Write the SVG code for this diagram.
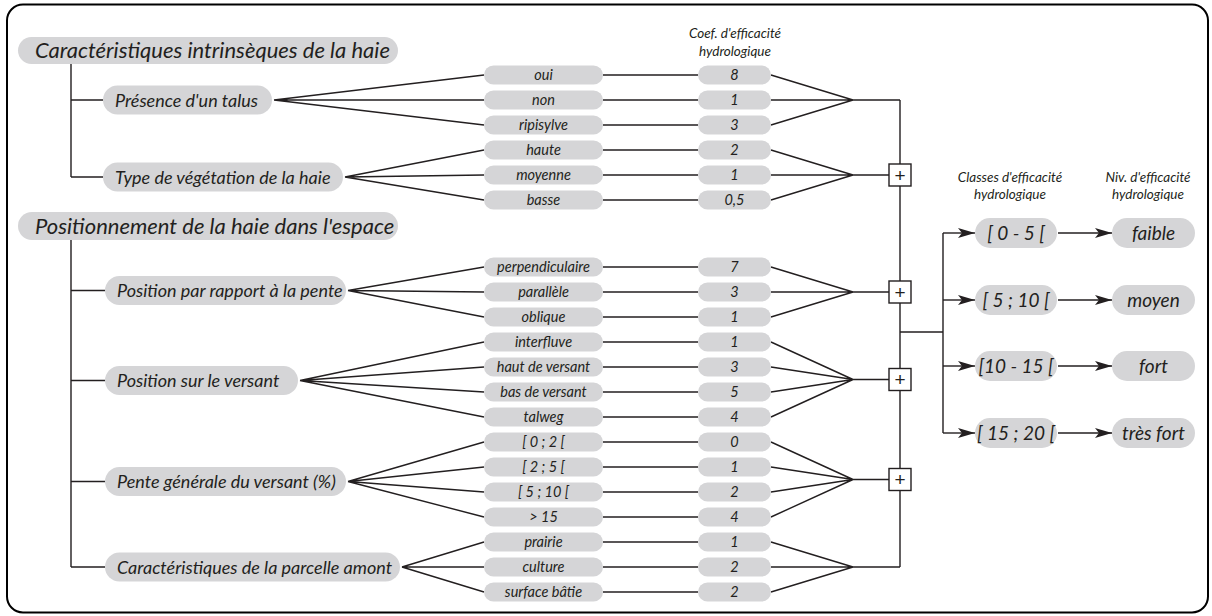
<svg xmlns="http://www.w3.org/2000/svg" width="1212" height="616" viewBox="0 0 1212 616">
<defs>
<style>
text{font-family:Lato,"Liberation Sans",sans-serif;font-style:italic;fill:#231f20}
.box{fill:#d5d5d7}
.ln{stroke:#231f20;stroke-width:1.4;fill:none}
.h1{font-size:22px}
.h2{font-size:18px}
.opt{font-size:14.5px;text-anchor:middle}
.cls{font-size:19px;text-anchor:middle}
.hd{font-size:13.5px;text-anchor:middle}
.plus{fill:#fff;stroke:#231f20;stroke-width:1.4}
.pt{font-style:normal;font-family:"Liberation Sans",sans-serif;font-size:19px;text-anchor:middle}
</style>
<marker id="arr" markerWidth="18" markerHeight="12" refX="17" refY="6" orient="auto" markerUnits="userSpaceOnUse">
<path d="M0,1 L17,6 L0,11 L4,6 z" fill="#231f20"/>
</marker>
</defs>
<rect x="7" y="4.5" width="1201" height="608" rx="16" fill="#fff" stroke="#000" stroke-width="2"/>

<g id="connectors" class="ln">
<path d="M71,64 V177 M71,100 H103 M71,177 H103"/>
<path d="M71,240 V567 M71,290.5 H105 M71,380.5 H105 M71,481.5 H105 M71,567 H105"/>
<path d="M274,100 L484,75 M274,100 L484,100 M274,100 L484,125"/>
<path d="M345,177 L484,150 M345,177 L484,175 M345,177 L484,200"/>
<path d="M348,290.5 L484,267 M348,290.5 L484,292 M348,290.5 L484,317"/>
<path d="M300,380.5 L484,342 M300,380.5 L484,367 M300,380.5 L484,392 M300,380.5 L484,417"/>
<path d="M348,481.5 L484,442 M348,481.5 L484,467 M348,481.5 L484,492 M348,481.5 L484,517"/>
<path d="M402,567 L484,542 M402,567 L484,567 M402,567 L484,592"/>
<path d="M603,75 H698 M603,100 H698 M603,125 H698 M603,150 H698 M603,175 H698 M603,200 H698 M603,267 H698 M603,292 H698 M603,317 H698 M603,342 H698 M603,367 H698 M603,392 H698 M603,417 H698 M603,442 H698 M603,467 H698 M603,492 H698 M603,517 H698 M603,542 H698 M603,567 H698 M603,592 H698"/>
<path d="M771,75 L853,100 M771,100 L853,100 M771,125 L853,100 M853,100 H900"/>
<path d="M771,150 L853,175 M771,175 L853,175 M771,200 L853,175 M853,175 H889"/>
<path d="M771,267 L853,292 M771,292 L853,292 M771,317 L853,292 M853,292 H889"/>
<path d="M771,342 L853,379.5 M771,367 L853,379.5 M771,392 L853,379.5 M771,417 L853,379.5 M853,379.5 H889"/>
<path d="M771,442 L853,479.5 M771,467 L853,479.5 M771,492 L853,479.5 M771,517 L853,479.5 M853,479.5 H889"/>
<path d="M771,542 L853,567 M771,567 L853,567 M771,592 L853,567 M853,567 H900"/>
<path d="M900,100 V567 M900,332 H943 M943,233 V433"/>
<path d="M943,233 H975" marker-end="url(#arr)"/>
<path d="M943,300 H975" marker-end="url(#arr)"/>
<path d="M943,366 H975" marker-end="url(#arr)"/>
<path d="M943,433 H975" marker-end="url(#arr)"/>
<path d="M1058,233 H1112" marker-end="url(#arr)"/>
<path d="M1058,300 H1112" marker-end="url(#arr)"/>
<path d="M1058,366 H1112" marker-end="url(#arr)"/>
<path d="M1058,433 H1112" marker-end="url(#arr)"/>
</g>

<g id="plus-boxes">
<g id="plus1"><rect class="plus" x="889" y="164" width="22" height="22"/><text class="pt" x="900" y="181.5">+</text></g>
<g id="plus2"><rect class="plus" x="889" y="281" width="22" height="22"/><text class="pt" x="900" y="298.5">+</text></g>
<g id="plus3"><rect class="plus" x="889" y="368.5" width="22" height="22"/><text class="pt" x="900" y="386">+</text></g>
<g id="plus4"><rect class="plus" x="889" y="468.5" width="22" height="22"/><text class="pt" x="900" y="486">+</text></g>
</g>

<g id="head-intrinseques"><rect class="box" x="18" y="37" width="380" height="27" rx="13.5"/><text class="h1" x="35" y="58">Caractéristiques intrinsèques de la haie</text></g>
<g id="head-position"><rect class="box" x="18" y="212" width="380" height="28" rx="14"/><text class="h1" x="35" y="233.5">Positionnement de la haie dans l'espace</text></g>

<g id="p-talus"><rect class="box" x="103" y="85.5" width="169" height="29" rx="14.5"/><text class="h2" x="115" y="106.5">Présence d'un talus</text></g>
<g id="p-vegetation"><rect class="box" x="103" y="162.5" width="240" height="29" rx="14.5"/><text class="h2" x="115" y="183.5">Type de végétation de la haie</text></g>
<g id="p-pente"><rect class="box" x="105" y="276" width="241" height="29" rx="14.5"/><text class="h2" x="117" y="297">Position par rapport à la pente</text></g>
<g id="p-versant"><rect class="box" x="105" y="366" width="193" height="29" rx="14.5"/><text class="h2" x="117" y="387">Position sur le versant</text></g>
<g id="p-pentegen"><rect class="box" x="105" y="467" width="241" height="29" rx="14.5"/><text class="h2" x="117" y="488">Pente générale du versant (%)</text></g>
<g id="p-parcelle"><rect class="box" x="105" y="552.5" width="295" height="29" rx="14.5"/><text class="h2" x="117" y="573.5">Caractéristiques de la parcelle amont</text></g>

<g id="options">
<g id="o1"><rect class="box" x="484" y="65.5" width="119" height="19" rx="9.5"/><text class="opt" x="543.5" y="80">oui</text></g>
<g id="o2"><rect class="box" x="484" y="90.5" width="119" height="19" rx="9.5"/><text class="opt" x="543.5" y="105">non</text></g>
<g id="o3"><rect class="box" x="484" y="115.5" width="119" height="19" rx="9.5"/><text class="opt" x="543.5" y="130">ripisylve</text></g>
<g id="o4"><rect class="box" x="484" y="140.5" width="119" height="19" rx="9.5"/><text class="opt" x="543.5" y="155">haute</text></g>
<g id="o5"><rect class="box" x="484" y="165.5" width="119" height="19" rx="9.5"/><text class="opt" x="543.5" y="180">moyenne</text></g>
<g id="o6"><rect class="box" x="484" y="190.5" width="119" height="19" rx="9.5"/><text class="opt" x="543.5" y="205">basse</text></g>
<g id="o7"><rect class="box" x="484" y="257.5" width="119" height="19" rx="9.5"/><text class="opt" x="543.5" y="272">perpendiculaire</text></g>
<g id="o8"><rect class="box" x="484" y="282.5" width="119" height="19" rx="9.5"/><text class="opt" x="543.5" y="297">parallèle</text></g>
<g id="o9"><rect class="box" x="484" y="307.5" width="119" height="19" rx="9.5"/><text class="opt" x="543.5" y="322">oblique</text></g>
<g id="o10"><rect class="box" x="484" y="332.5" width="119" height="19" rx="9.5"/><text class="opt" x="543.5" y="347">interfluve</text></g>
<g id="o11"><rect class="box" x="484" y="357.5" width="119" height="19" rx="9.5"/><text class="opt" x="543.5" y="372">haut de versant</text></g>
<g id="o12"><rect class="box" x="484" y="382.5" width="119" height="19" rx="9.5"/><text class="opt" x="543.5" y="397">bas de versant</text></g>
<g id="o13"><rect class="box" x="484" y="407.5" width="119" height="19" rx="9.5"/><text class="opt" x="543.5" y="422">talweg</text></g>
<g id="o14"><rect class="box" x="484" y="432.5" width="119" height="19" rx="9.5"/><text class="opt" x="543.5" y="447">[ 0 ; 2 [</text></g>
<g id="o15"><rect class="box" x="484" y="457.5" width="119" height="19" rx="9.5"/><text class="opt" x="543.5" y="472">[ 2 ; 5 [</text></g>
<g id="o16"><rect class="box" x="484" y="482.5" width="119" height="19" rx="9.5"/><text class="opt" x="543.5" y="497">[ 5 ; 10 [</text></g>
<g id="o17"><rect class="box" x="484" y="507.5" width="119" height="19" rx="9.5"/><text class="opt" x="543.5" y="522">&gt; 15</text></g>
<g id="o18"><rect class="box" x="484" y="532.5" width="119" height="19" rx="9.5"/><text class="opt" x="543.5" y="547">prairie</text></g>
<g id="o19"><rect class="box" x="484" y="557.5" width="119" height="19" rx="9.5"/><text class="opt" x="543.5" y="572">culture</text></g>
<g id="o20"><rect class="box" x="484" y="582.5" width="119" height="19" rx="9.5"/><text class="opt" x="543.5" y="597">surface bâtie</text></g>
</g>

<g id="coefs">
<text class="hd" x="735" y="38">Coef. d'efficacité</text>
<text class="hd" x="735" y="56">hydrologique</text>
<g id="c1"><rect class="box" x="698" y="65.5" width="73" height="19" rx="9.5"/><text class="opt" x="734.5" y="80">8</text></g>
<g id="c2"><rect class="box" x="698" y="90.5" width="73" height="19" rx="9.5"/><text class="opt" x="734.5" y="105">1</text></g>
<g id="c3"><rect class="box" x="698" y="115.5" width="73" height="19" rx="9.5"/><text class="opt" x="734.5" y="130">3</text></g>
<g id="c4"><rect class="box" x="698" y="140.5" width="73" height="19" rx="9.5"/><text class="opt" x="734.5" y="155">2</text></g>
<g id="c5"><rect class="box" x="698" y="165.5" width="73" height="19" rx="9.5"/><text class="opt" x="734.5" y="180">1</text></g>
<g id="c6"><rect class="box" x="698" y="190.5" width="73" height="19" rx="9.5"/><text class="opt" x="734.5" y="205">0,5</text></g>
<g id="c7"><rect class="box" x="698" y="257.5" width="73" height="19" rx="9.5"/><text class="opt" x="734.5" y="272">7</text></g>
<g id="c8"><rect class="box" x="698" y="282.5" width="73" height="19" rx="9.5"/><text class="opt" x="734.5" y="297">3</text></g>
<g id="c9"><rect class="box" x="698" y="307.5" width="73" height="19" rx="9.5"/><text class="opt" x="734.5" y="322">1</text></g>
<g id="c10"><rect class="box" x="698" y="332.5" width="73" height="19" rx="9.5"/><text class="opt" x="734.5" y="347">1</text></g>
<g id="c11"><rect class="box" x="698" y="357.5" width="73" height="19" rx="9.5"/><text class="opt" x="734.5" y="372">3</text></g>
<g id="c12"><rect class="box" x="698" y="382.5" width="73" height="19" rx="9.5"/><text class="opt" x="734.5" y="397">5</text></g>
<g id="c13"><rect class="box" x="698" y="407.5" width="73" height="19" rx="9.5"/><text class="opt" x="734.5" y="422">4</text></g>
<g id="c14"><rect class="box" x="698" y="432.5" width="73" height="19" rx="9.5"/><text class="opt" x="734.5" y="447">0</text></g>
<g id="c15"><rect class="box" x="698" y="457.5" width="73" height="19" rx="9.5"/><text class="opt" x="734.5" y="472">1</text></g>
<g id="c16"><rect class="box" x="698" y="482.5" width="73" height="19" rx="9.5"/><text class="opt" x="734.5" y="497">2</text></g>
<g id="c17"><rect class="box" x="698" y="507.5" width="73" height="19" rx="9.5"/><text class="opt" x="734.5" y="522">4</text></g>
<g id="c18"><rect class="box" x="698" y="532.5" width="73" height="19" rx="9.5"/><text class="opt" x="734.5" y="547">1</text></g>
<g id="c19"><rect class="box" x="698" y="557.5" width="73" height="19" rx="9.5"/><text class="opt" x="734.5" y="572">2</text></g>
<g id="c20"><rect class="box" x="698" y="582.5" width="73" height="19" rx="9.5"/><text class="opt" x="734.5" y="597">2</text></g>
</g>

<g id="classes">
<text class="hd" x="1010" y="182">Classes d'efficacité</text>
<text class="hd" x="1010" y="199">hydrologique</text>
<g id="k1"><rect class="box" x="975" y="218" width="82" height="30" rx="15"/><text class="cls" x="1016" y="239.5">[ 0 - 5 [</text></g>
<g id="k2"><rect class="box" x="975" y="285" width="82" height="30" rx="15"/><text class="cls" x="1016" y="306.5">[ 5 ; 10 [</text></g>
<g id="k3"><rect class="box" x="975" y="351" width="82" height="30" rx="15"/><text class="cls" x="1016" y="372.5">[10 - 15 [</text></g>
<g id="k4"><rect class="box" x="975" y="418" width="82" height="30" rx="15"/><text class="cls" x="1016" y="439.5">[ 15 ; 20 [</text></g>
</g>

<g id="niveaux">
<text class="hd" x="1148" y="182">Niv. d'efficacité</text>
<text class="hd" x="1148" y="199">hydrologique</text>
<g id="n1"><rect class="box" x="1112" y="218" width="83" height="30" rx="15"/><text class="cls" x="1153.5" y="239.5">faible</text></g>
<g id="n2"><rect class="box" x="1112" y="285" width="83" height="30" rx="15"/><text class="cls" x="1153.5" y="306.5">moyen</text></g>
<g id="n3"><rect class="box" x="1112" y="351" width="83" height="30" rx="15"/><text class="cls" x="1153.5" y="372.5">fort</text></g>
<g id="n4"><rect class="box" x="1112" y="418" width="83" height="30" rx="15"/><text class="cls" x="1153.5" y="439.5">très fort</text></g>
</g>
</svg>
